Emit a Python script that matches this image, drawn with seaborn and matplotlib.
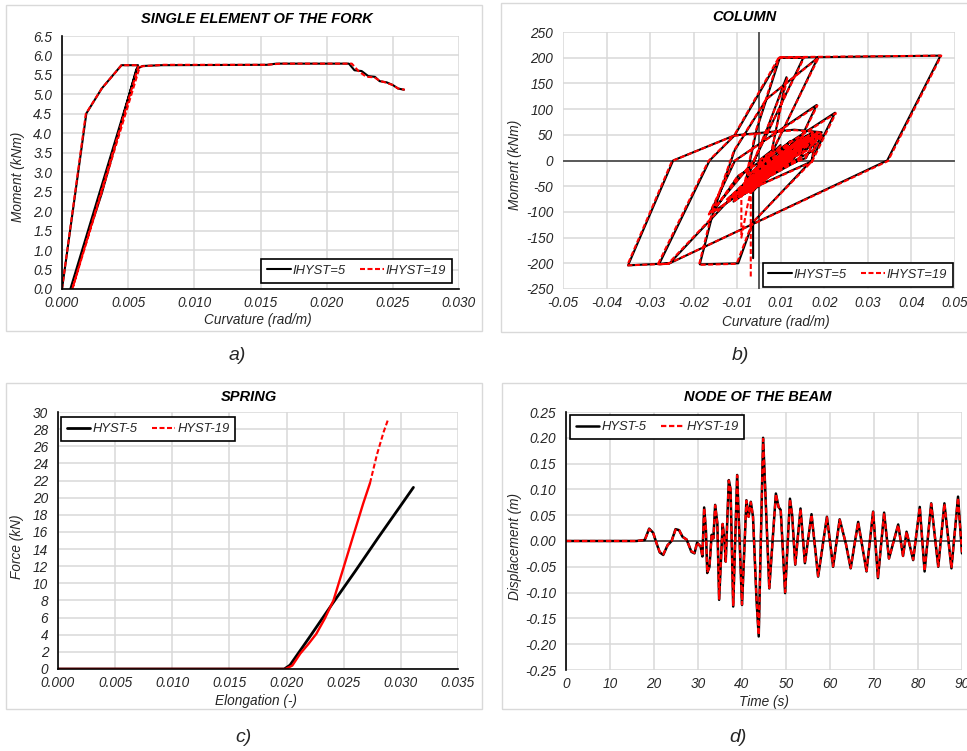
import numpy as np
import matplotlib
matplotlib.use("Agg")
import matplotlib.pyplot as plt
from matplotlib.patches import Rectangle
import seaborn as sns

# ---------------- data ----------------
# a) single element of the fork: moment-curvature
fork_curv_5 = [0.0, 0.00184, 0.0030, 0.00449, 0.00575, 0.00063, 0.0030, 0.00562, 0.0061, 0.0075,
               0.0155, 0.0162, 0.02168, 0.0221, 0.02264, 0.02314, 0.02365, 0.0240, 0.02453, 0.0250,
               0.0254, 0.02584]
fork_mom_5 = [0.0, 4.51, 5.15, 5.75, 5.75, 0.0, 2.45, 5.65, 5.73, 5.75,
              5.76, 5.79, 5.79, 5.62, 5.60, 5.47, 5.45, 5.34, 5.31, 5.24,
              5.15, 5.12]
fork_curv_19 = [0.0, 0.0018, 0.0030, 0.0045, 0.0058, 0.00078, 0.0058, 0.0060, 0.0077, 0.0155,
                0.0165, 0.0219, 0.0224, 0.0230, 0.0236, 0.0240, 0.0245, 0.0250, 0.0254, 0.0259]
fork_mom_19 = [0.0, 4.50, 5.15, 5.75, 5.75, 0.0, 5.62, 5.72, 5.76, 5.76,
               5.79, 5.79, 5.60, 5.45, 5.44, 5.35, 5.30, 5.24, 5.15, 5.12]

# b) column: moment-curvature hysteresis
col_curv_5 = [0.0000, 0.0030, -0.0020, 0.0055, -0.0030, 0.0080, 0.0010, -0.0045, 0.0100, 0.0035,
              -0.0060, 0.0120, 0.0060, -0.0025, 0.0140, 0.0100, -0.0070, 0.0147, 0.0134, -0.0040,
              -0.0006, 0.0053, 0.0113, -0.0012, -0.0126, -0.0061, 0.0147, 0.0080, -0.0117, -0.0053,
              0.0194, 0.0134, -0.0015, -0.0053, -0.0151, -0.0118, -0.0062, 0.0020, 0.0150, 0.0030,
              -0.0080, -0.0228, -0.0334, -0.0219, -0.0062, 0.0053, 0.0463, 0.0327, -0.0228, -0.0255,
              -0.0126, -0.0062, 0.0090, 0.0160, 0.0120, -0.0030, -0.0080, 0.0050, 0.0150, 0.0110,
              -0.0010, 0.0070, 0.0130, 0.0080, -0.0040, 0.0040, 0.0110, 0.0000, -0.0050, 0.0020,
              0.0070, 0.0020, -0.0035, 0.0125, 0.0090, -0.0050, 0.0150, 0.0120, -0.0020, 0.0110,
              0.0080, -0.0060, 0.0135, 0.0105, -0.0010, 0.0160, 0.0140, 0.0030, -0.0045, 0.0100,
              0.0075, -0.0030, 0.0125, 0.0090, -0.0065, 0.0040, 0.0118, 0.0020, -0.0050, 0.0085,
              -0.0015, -0.0015]
col_mom_5 = [0, 18, -25, 30, -40, 38, -28, -55, 42, -20,
             -65, 48, -12, -50, 52, 0, -72, 55, -2, -62,
             60, 200, 200, 0, -104, 0, 108, 0, -100, -30,
             93, 0, -120, -200, -202, -104, 20, 120, 200, 10,
             -80, -200, -204, 0, 49, 200, 204, 0, -200, -202,
             0, 49, 60, 55, 20, -40, -75, -10, 45, 30,
             -45, 10, 40, 15, -60, -20, 35, -50, -70, -30,
             162, 60, -45, 50, 10, -60, 52, 5, -35, 48,
             0, -68, 55, 15, -30, 50, 20, -25, -55, 40,
             25, -40, 45, 5, -80, -10, 38, -35, -70, 30,
             -60, -190]
col_curv_19 = [0.0000, 0.0032, -0.0022, 0.0057, -0.0032, 0.0082, 0.0008, -0.0047, 0.0102, 0.0033,
               -0.0062, 0.0122, 0.0058, -0.0027, 0.0142, 0.0098, -0.0072, 0.0149, 0.0135, -0.0042,
               -0.0008, 0.0051, 0.0115, -0.0014, -0.0128, -0.0063, 0.0149, 0.0078, -0.0119, -0.0055,
               0.0196, 0.0136, -0.0017, -0.0057, -0.0153, -0.0121, -0.0064, 0.0018, 0.0152, 0.0028,
               -0.0083, -0.0232, -0.0336, -0.0222, -0.0064, 0.0051, 0.0465, 0.0329, -0.0232, -0.0258,
               -0.0129, -0.0064, 0.0092, 0.0162, 0.0122, -0.0032, -0.0082, 0.0048, 0.0152, 0.0108,
               -0.0012, 0.0068, 0.0132, 0.0078, -0.0042, 0.0038, 0.0112, -0.0002, -0.0052, 0.0018,
               0.0072, 0.0018, -0.0037, 0.0127, 0.0088, -0.0052, 0.0152, 0.0118, -0.0022, 0.0112,
               0.0078, -0.0062, 0.0137, 0.0103, -0.0012, 0.0162, 0.0138, 0.0028, -0.0047, 0.0102,
               0.0073, -0.0032, 0.0127, 0.0088, -0.0067, 0.0038, 0.0120, 0.0018, -0.0052, 0.0087,
               -0.0017, -0.0045, -0.0045, -0.0030, -0.0021, -0.0021]
col_mom_19 = [0, 17, -26, 29, -41, 37, -29, -56, 41, -21,
              -66, 47, -13, -51, 51, -1, -73, 54, -3, -63,
              58, 200, 200, -1, -105, -1, 107, -1, -101, -31,
              92, -1, -121, -201, -203, -105, 19, 119, 200, 9,
              -81, -201, -204, -1, 48, 201, 204, -1, -201, -202,
              -1, 48, 59, 54, 19, -41, -76, -11, 44, 29,
              -46, 9, 39, 14, -61, -21, 34, -51, -71, -31,
              160, 58, -46, 49, 9, -61, 51, 4, -36, 47,
              -1, -69, 54, 14, -31, 49, 19, -26, -56, 39,
              24, -41, 44, 4, -81, -11, 37, -36, -71, 29,
              -60, -60, -150, -90, -60, -230]

# c) spring: force-elongation
spring_elong_5 = [0.0, 0.005, 0.010, 0.015, 0.0198, 0.0203, 0.0220, 0.0240, 0.0260, 0.0280, 0.0300, 0.0311]
spring_force_5 = [0.0, 0.0, 0.0, 0.0, 0.0, 0.45, 3.7, 7.6, 11.4, 15.3, 19.1, 21.2]
spring_elong_19 = [0.0, 0.005, 0.010, 0.015, 0.0199, 0.0205, 0.0212, 0.0219, 0.0226, 0.02335,
                   0.0241, 0.0250, 0.0258, 0.0267, 0.0273, 0.0279, 0.0285, 0.0289]
spring_force_19 = [0.0, 0.0, 0.0, 0.0, 0.0, 0.4, 1.8, 2.9, 4.1, 5.9,
                   8.0, 11.9, 15.4, 19.3, 21.7, 25.0, 27.7, 29.2]

# d) node of the beam: displacement time history
beam_time = [0, 16.0, 17.9, 18.9, 19.8, 20.6, 21.3, 22.1, 23.1, 24.0,
             24.9, 25.7, 26.5, 27.4, 28.5, 29.2, 29.8, 30.6, 31.0, 31.4,
             31.8, 32.1, 32.6, 33.1, 33.5, 33.9, 34.4, 34.8, 35.6, 36.0,
             36.3, 37.0, 37.4, 38.0, 38.9, 40.0, 41.0, 41.5, 42.0, 42.5,
             43.3, 43.8, 44.8, 46.2, 47.7, 48.3, 48.8, 49.8, 50.9, 51.4,
             52.1, 53.3, 54.3, 55.8, 57.3, 59.3, 60.7, 62.2, 63.6, 64.7,
             66.4, 68.3, 69.8, 70.9, 72.3, 73.4, 75.5, 76.6, 77.4, 78.9,
             80.4, 81.5, 83.0, 84.6, 86.0, 87.6, 89.1, 90.0]
beam_disp_5 = [0, 0, 0.002, 0.024, 0.016, -0.005, -0.022, -0.027, -0.008, 0.000,
               0.023, 0.021, 0.008, 0.003, -0.021, -0.024, -0.003, -0.011, -0.030, 0.065,
               0.021, -0.062, -0.050, 0.012, 0.005, 0.070, 0.034, -0.114, 0.033, 0.003,
               -0.040, 0.118, 0.100, -0.127, 0.128, -0.124, 0.079, 0.047, 0.076, 0.047,
               -0.114, -0.185, 0.200, -0.092, 0.092, 0.066, 0.060, -0.101, 0.082, 0.050,
               -0.046, 0.063, -0.043, 0.052, -0.069, 0.047, -0.050, 0.042, -0.005, -0.053,
               0.037, -0.059, 0.057, -0.072, 0.055, -0.034, 0.032, -0.029, 0.018, -0.037,
               0.066, -0.059, 0.073, -0.050, 0.073, -0.053, 0.086, -0.024]
beam_disp_19 = [0, 0, 0.002, 0.023, 0.016, -0.005, -0.021, -0.026, -0.008, 0.000,
                0.022, 0.021, 0.008, 0.003, -0.020, -0.023, -0.003, -0.011, -0.030, 0.064,
                0.021, -0.061, -0.050, 0.012, 0.005, 0.069, 0.034, -0.112, 0.033, 0.003,
                -0.040, 0.117, 0.100, -0.126, 0.127, -0.123, 0.078, 0.047, 0.075, 0.047,
                -0.113, -0.182, 0.198, -0.091, 0.091, 0.066, 0.060, -0.099, 0.081, 0.050,
                -0.045, 0.062, -0.043, 0.051, -0.068, 0.046, -0.049, 0.041, -0.005, -0.052,
                0.036, -0.058, 0.056, -0.070, 0.054, -0.034, 0.031, -0.029, 0.018, -0.036,
                0.065, -0.058, 0.072, -0.049, 0.072, -0.052, 0.084, -0.024]

# ---------------- style ----------------
sns.set_theme(style="white")
plt.rcParams["font.family"] = ["Liberation Sans", "DejaVu Sans"]
plt.rcParams["font.style"] = "italic"
plt.rcParams["axes.unicode_minus"] = False

W, H = 967, 751
fig = plt.figure(figsize=(W / 100, H / 100), dpi=100)
fig.patch.set_facecolor("white")

GRID = "#d9d9d9"
TXT = "#262626"
RED = "#ff0000"
DASH = (0, (2.4, 1.2))
TICK_FS = 9.8
LABEL_FS = 9.8


def axes_px(left, top, right, bottom):
    return fig.add_axes([left / W, 1 - bottom / H, (right - left) / W, (bottom - top) / H])


def frame_px(left, top, right, bottom):
    fig.patches.append(Rectangle((left / W, 1 - bottom / H), (right - left) / W, (bottom - top) / H,
                                 transform=fig.transFigure, fill=False, edgecolor=GRID, lw=1.0))


def style(ax, xticks, yticks, xfmt, yfmt, xlabel, ylabel, xlab_pos, ylab_pos, title, title_pos):
    ax.set_xlim(xticks[0], xticks[-1])
    ax.set_ylim(yticks[0], yticks[-1])
    ax.set_xticks(xticks)
    ax.set_yticks(yticks)
    ax.set_xticklabels([xfmt(v) for v in xticks])
    ax.set_yticklabels([yfmt(v) for v in yticks])
    ax.grid(True, color=GRID, lw=1.1)
    ax.set_axisbelow(True)
    ax.tick_params(length=0, labelsize=TICK_FS, colors=TXT)
    ax.tick_params(axis="x", pad=5)
    ax.tick_params(axis="y", pad=7)
    for s in ax.spines.values():
        s.set_visible(False)
    ax.set_xlabel(xlabel, fontsize=LABEL_FS, color=TXT)
    ax.set_ylabel(ylabel, fontsize=LABEL_FS, color=TXT)
    ax.xaxis.set_label_coords(*xlab_pos)
    ax.yaxis.set_label_coords(*ylab_pos)
    ax.xaxis.label.set_va("center")
    ax.yaxis.label.set_va("center")
    ax.set_title(title, fontsize=10.5, fontweight="bold", color="black", x=title_pos[0],
                 y=title_pos[1], va="center", pad=0)


def legend(ax, loc, anchor):
    h, l = ax.get_legend_handles_labels()
    leg = ax.legend(h, l, loc=loc, bbox_to_anchor=anchor, borderaxespad=0, ncol=2, fontsize=9.4,
                    handlelength=1.8, handletextpad=0.15, columnspacing=1.1, fancybox=False,
                    framealpha=1, edgecolor="black", borderpad=0.45)
    leg.get_frame().set_linewidth(1.2)
    for t in leg.get_texts():
        t.set_color(TXT)


def fmt(decimals):
    def f(v):
        v = round(v, decimals)
        if v == 0:
            v = 0.0
        return f"{v:.{decimals}f}"
    return f


# panel frames
frame_px(6, 5, 482, 331)
frame_px(501, 3, 975, 332)
frame_px(6, 383, 482, 709)
frame_px(502, 383, 975, 709)

# ---------------- a) ----------------
ax = axes_px(62, 36, 459, 289)
sns.lineplot(x=fork_curv_5, y=fork_mom_5, ax=ax, sort=False, estimator=None, color="black",
             lw=1.5, label="IHYST=5")
sns.lineplot(x=fork_curv_19, y=fork_mom_19, ax=ax, sort=False, estimator=None, color=RED,
             lw=1.5, linestyle=DASH, label="IHYST=19")
style(ax, np.round(np.arange(0, 0.0301, 0.005), 3), np.round(np.arange(0, 6.51, 0.5), 1),
      fmt(3), fmt(1), "Curvature (rad/m)", "Moment (kNm)", (0.494, -0.1225), (-0.111, 0.443),
      "SINGLE ELEMENT OF THE FORK", (0.491, 1.067))
for s in ("left", "bottom"):
    ax.spines[s].set_visible(True)
    ax.spines[s].set_color("black")
    ax.spines[s].set_linewidth(1.2)
legend(ax, "lower right", (0.982, 0.024))

# ---------------- b) ----------------
ax = axes_px(563, 32, 955, 289)
ax.axhline(0, color="#595959", lw=1.4, zorder=1.5)
ax.axvline(0, color="#595959", lw=1.4, zorder=1.5)
sns.lineplot(x=col_curv_5, y=col_mom_5, ax=ax, sort=False, estimator=None, color="black",
             lw=1.5, label="IHYST=5")
sns.lineplot(x=col_curv_19, y=col_mom_19, ax=ax, sort=False, estimator=None, color=RED,
             lw=1.5, linestyle=DASH, label="IHYST=19")
style(ax, np.linspace(-0.05, 0.05, 10), np.arange(-250, 251, 50),
      fmt(2), lambda v: f"{int(v)}", "Curvature (rad/m)", "Moment (kNm)",
      (0.543, -0.128), (-0.122, 0.482), "COLUMN", (0.462, 1.058))
legend(ax, "lower right", (0.995, 0.008))

# ---------------- c) ----------------
ax = axes_px(58, 412, 458, 669)
sns.lineplot(x=spring_elong_5, y=spring_force_5, ax=ax, sort=False, estimator=None, color="black",
             lw=2.0, label="HYST-5")
k = spring_elong_19.index(0.0273)
sns.lineplot(x=spring_elong_19[:k + 1], y=spring_force_19[:k + 1], ax=ax, sort=False,
             estimator=None, color=RED, lw=1.7, label="_nolegend_")
sns.lineplot(x=spring_elong_19[k:], y=spring_force_19[k:], ax=ax, sort=False, estimator=None,
             color=RED, lw=1.5, linestyle=DASH, label="HYST-19")
style(ax, np.round(np.arange(0, 0.0351, 0.005), 3), np.arange(0, 31, 2),
      fmt(3), lambda v: f"{int(v)}", "Elongation (-)", "Force (kN)",
      (0.495, -0.125), (-0.1025, 0.475), "SPRING", (0.4775, 1.058))
for s in ("left", "bottom"):
    ax.spines[s].set_visible(True)
    ax.spines[s].set_color("black")
    ax.spines[s].set_linewidth(1.2)
legend(ax, "upper left", (0.0075, 0.98))

# ---------------- d) ----------------
ax = axes_px(566, 412, 962, 670)
ax.axhline(0, color="#595959", lw=1.4, zorder=1.5)
sns.lineplot(x=beam_time, y=beam_disp_5, ax=ax, sort=False, estimator=None, color="black",
             lw=1.8, label="HYST-5")
sns.lineplot(x=beam_time, y=beam_disp_19, ax=ax, sort=False, estimator=None, color=RED,
             lw=1.6, linestyle=DASH, label="HYST-19")
style(ax, np.arange(0, 91, 10), np.round(np.arange(-0.25, 0.2501, 0.05), 2),
      lambda v: f"{int(v)}", fmt(2), "Time (s)", "Displacement (m)",
      (0.5, -0.124), (-0.129, 0.477), "NODE OF THE BEAM", (0.485, 1.058))
ax.spines["left"].set_visible(True)
ax.spines["left"].set_color("black")
ax.spines["left"].set_linewidth(1.2)
legend(ax, "upper left", (0.01, 0.988))

# panel captions
for lab, (px, py) in zip(["a)", "b)", "c)", "d)"], [(237, 356), (740, 356), (243, 737), (738, 737)]):
    fig.text(px / W, 1 - py / H, lab, fontsize=14, style="italic", color=TXT, ha="center", va="center")

fig.savefig("out.png", dpi=100, facecolor="white")
